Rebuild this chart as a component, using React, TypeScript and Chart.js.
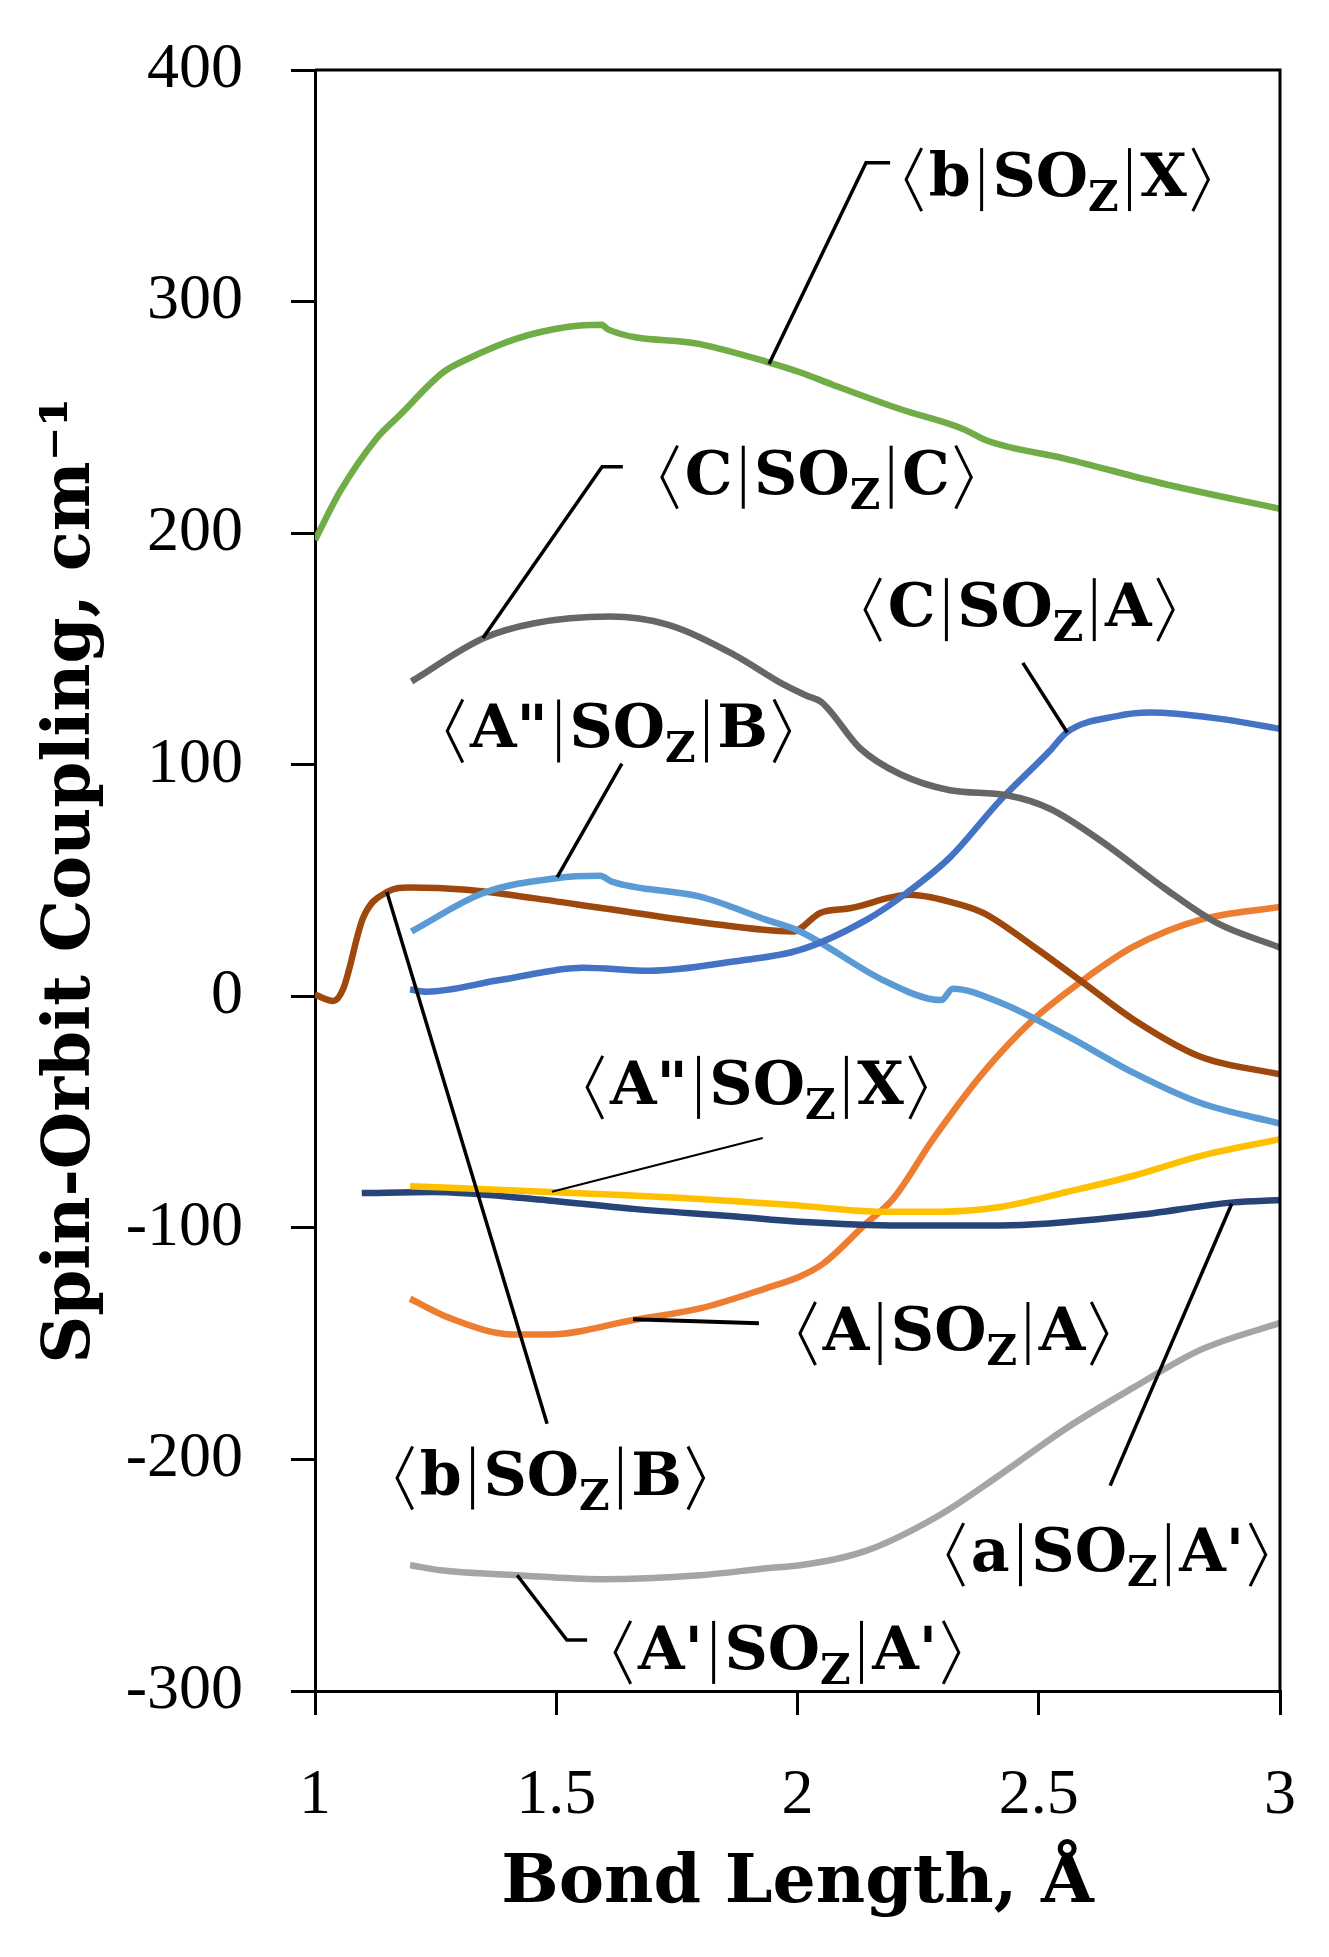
import React, { useRef, useEffect } from "react";
import Chart from "chart.js/auto";

// series: [bond length (Å), coupling (cm-1)]
const bSOX: [number, number][] = [
  [1.0, 197], [1.052, 218], [1.128, 241], [1.176, 251], [1.266, 269.5], [1.314, 275],
  [1.418, 284], [1.522, 289], [1.594, 290], [1.607, 288], [1.798, 281.6], [1.936, 274],
  [2.005, 269.5], [2.074, 264], [2.212, 253.6], [2.343, 245], [2.392, 240], [2.558, 232],
  [2.765, 221], [3.0, 210.5],
];
const cSOC: [number, number][] = [
  [1.2, 136], [1.349, 154.6], [1.452, 161], [1.611, 164], [1.729, 160.6], [1.867, 147.7],
  [1.97, 134.8], [2.019, 129.8], [2.05, 127], [2.13, 107], [2.212, 96], [2.316, 89],
  [2.434, 86.8], [2.523, 81], [2.627, 67.4], [2.765, 46], [2.869, 31.7], [3.0, 21],
];
const cSOA: [number, number][] = [
  [1.197, 2.9], [1.232, 2], [1.383, 7], [1.556, 12.3], [1.694, 11], [1.867, 15], [2.005, 20],
  [2.143, 33], [2.226, 44.6], [2.316, 60], [2.42, 84.6], [2.523, 106], [2.558, 114],
  [2.662, 121], [2.731, 122.5], [2.869, 120], [3.0, 115.5],
];
const appSOB: [number, number][] = [
  [1.2, 28], [1.349, 44.6], [1.5, 51], [1.591, 52], [1.615, 49.5], [1.798, 43], [1.936, 33],
  [2.005, 28], [2.177, 7], [2.281, -1.4], [2.298, -1.6], [2.322, 3.3], [2.42, -2.7],
  [2.558, -17], [2.696, -33], [2.834, -46], [3.0, -55],
];
const bSOB: [number, number][] = [
  [1.0, 0.7], [1.038, -2], [1.058, 3], [1.1, 34], [1.149, 45], [1.197, 47], [1.314, 46],
  [1.452, 42.4], [1.597, 38], [1.798, 32], [1.991, 28], [2.047, 36], [2.109, 38],
  [2.233, 43.8], [2.316, 40.8], [2.385, 36], [2.489, 21.5], [2.592, 5.9], [2.696, -10],
  [2.834, -26], [3.0, -33.7],
];
const appSOX: [number, number][] = [
  [1.197, -82], [1.487, -84.5], [1.798, -87.5], [2.005, -90.4], [2.177, -93], [2.295, -93],
  [2.42, -91], [2.558, -84.5], [2.696, -77.5], [2.834, -69], [3.0, -61.7],
];
const aSOAp: [number, number][] = [
  [1.097, -85], [1.245, -84.5], [1.452, -87.5], [1.66, -91.8], [1.867, -95], [2.005, -97.4],
  [2.212, -99], [2.42, -99], [2.696, -94.7], [2.903, -89], [3.0, -88],
];
const aSOA: [number, number][] = [
  [1.197, -130.6], [1.28, -139], [1.411, -146], [1.487, -146], [1.66, -139.8], [1.798, -134.8],
  [1.936, -126], [2.005, -121], [2.053, -115.5], [2.143, -98], [2.198, -87.5], [2.281, -61.7],
  [2.385, -33], [2.489, -10], [2.592, 7], [2.696, 21.4], [2.834, 33], [3.0, 38.6],
];
const apSOAp: [number, number][] = [
  [1.197, -245.7], [1.266, -248], [1.418, -250], [1.591, -251.7], [1.798, -250], [1.936, -247],
  [2.005, -245.7], [2.143, -239.4], [2.295, -224], [2.42, -206.6], [2.558, -186.4],
  [2.696, -169], [2.834, -152.8], [3.0, -141],
];

const seriesData = [bSOX, cSOC, cSOA, appSOB, bSOB, appSOX, aSOAp, aSOA, apSOAp];
const seriesColors = [
  "#70AD47", "#666666", "#4472C4", "#5B9BD5", "#9E480E",
  "#FFC000", "#264478", "#ED7D31", "#A5A5A5",
];

// label text: bra state, ket state (the middle is always SO_Z)
const labelStates: [string, string][] = [
  ["b", "X"], ["C", "C"], ["C", "A"], ['A"', "B"], ['A"', "X"],
  ["b", "B"], ["A", "A"], ["a", "A'"], ["A'", "A'"],
];
// left edge x and vertical centre y of each label, in data units
const labelAt: [number, number][] = [
  [2.225, 355], [1.719, 226.5], [2.14, 169.3], [1.274, 116.9], [1.564, -37],
  [1.17, -205.7], [2.005, -143.3], [2.312, -238.8], [1.622, -281],
];
// leader lines, in data units
const leaders: [number, number][][] = [
  [[2.192, 360], [2.142, 360], [1.941, 273]],
  [[1.638, 228.7], [1.595, 228.7], [1.348, 154.7]],
  [[2.467, 144], [2.559, 113.9]],
  [[1.636, 100.5], [1.502, 51.5]],
  [[1.928, -61.2], [1.491, -84.4]],
  [[1.481, -184.6], [1.149, 45]],
  [[1.659, -139.5], [1.92, -141.2]],
  [[2.648, -211.3], [2.9, -89.6]],
  [[1.564, -278], [1.522, -278], [1.419, -250]],
];
const leaderWidths = [3.5, 3.5, 3.5, 3.5, 2, 3.5, 4, 3.5, 3.5];

const LABEL_SIZE = 60;

function drawLabel(ctx: CanvasRenderingContext2D, x: number, cy: number, bra: string, ket: string) {
  const S = LABEL_SIZE;
  const base = cy + 0.365 * S;
  const top = base - 0.8 * S;
  const bot = base + 0.25 * S;
  const mid = (top + bot) / 2;
  const bw = 0.26 * S;
  const main = `bold ${S}px "DejaVu Serif"`;
  const small = `bold ${Math.round(S * 0.7)}px "DejaVu Serif"`;
  ctx.lineWidth = 3;
  ctx.textAlign = "left";
  ctx.textBaseline = "alphabetic";

  let cx = x;
  ctx.beginPath();
  ctx.moveTo(cx + bw, top);
  ctx.lineTo(cx, mid);
  ctx.lineTo(cx + bw, bot);
  ctx.stroke();
  cx += bw + 0.12 * S;

  const bar = () => {
    cx += 0.18 * S;
    ctx.beginPath();
    ctx.moveTo(cx, top);
    ctx.lineTo(cx, bot);
    ctx.stroke();
    cx += 0.18 * S;
  };
  const text = (t: string, font: string, dy: number) => {
    ctx.font = font;
    ctx.fillText(t, cx, base + dy);
    cx += ctx.measureText(t).width;
  };

  text(bra, main, 0);
  bar();
  text("SO", main, 0);
  text("Z", small, 0.25 * S);
  bar();
  text(ket, main, 0);

  cx += 0.1 * S;
  ctx.beginPath();
  ctx.moveTo(cx, top);
  ctx.lineTo(cx + bw, mid);
  ctx.lineTo(cx, bot);
  ctx.stroke();
}

const annotate = {
  id: "annotate",
  afterDatasetsDraw(chart: any) {
    const { ctx, chartArea, scales } = chart;
    const xs = scales.x;
    const ys = scales.y;
    ctx.save();
    ctx.strokeStyle = "#000";
    ctx.fillStyle = "#000";
    ctx.lineCap = "butt";

    // top and right sides of the frame
    ctx.lineWidth = 3;
    ctx.beginPath();
    ctx.moveTo(chartArea.left, chartArea.top);
    ctx.lineTo(chartArea.right, chartArea.top);
    ctx.lineTo(chartArea.right, chartArea.bottom);
    ctx.stroke();

    leaders.forEach((pts, i) => {
      ctx.lineWidth = leaderWidths[i];
      ctx.beginPath();
      pts.forEach(([px, py], j) => {
        const X = xs.getPixelForValue(px);
        const Y = ys.getPixelForValue(py);
        if (j === 0) ctx.moveTo(X, Y);
        else ctx.lineTo(X, Y);
      });
      ctx.stroke();
    });

    labelStates.forEach(([bra, ket], i) => {
      const [lx, ly] = labelAt[i];
      drawLabel(ctx, xs.getPixelForValue(lx), ys.getPixelForValue(ly), bra, ket);
    });
    ctx.restore();
  },
};

const App: React.FC = () => {
  const chartRef = useRef<HTMLCanvasElement | null>(null);
  const chartInstance = useRef<Chart | null>(null);

  useEffect(() => {
    document.body.style.margin = "0";
    if (chartInstance.current) {
      chartInstance.current.destroy();
      chartInstance.current = null;
    }
    if (!chartRef.current) return;

    const tickFont = { family: '"Liberation Serif"', size: 64 };
    const xTitleFont = { family: '"DejaVu Serif"', size: 68, weight: "bold" as const };
    const yTitleFont = { family: '"DejaVu Serif"', size: 66, weight: "bold" as const };

    chartInstance.current = new Chart(chartRef.current, {
      type: "line",
      data: {
        datasets: seriesData.map((pts, i) => ({
          data: pts.map(([x, y]) => ({ x, y })),
          borderColor: seriesColors[i],
          backgroundColor: seriesColors[i],
          borderWidth: 6.5,
          pointRadius: 0,
          fill: false,
          cubicInterpolationMode: "monotone" as const,
        })),
      },
      options: {
        responsive: false,
        animation: false,
        layout: { padding: { left: 0, top: 70, right: 49, bottom: 0 } },
        plugins: {
          legend: { display: false },
          tooltip: { enabled: false },
        },
        scales: {
          x: {
            type: "linear",
            min: 1,
            max: 3,
            afterFit: (scale: any) => {
              scale.height = 266;
              scale.paddingLeft = 0;
              scale.paddingRight = 0;
            },
            ticks: {
              stepSize: 0.5,
              color: "#000",
              font: tickFont,
              padding: 43,
              maxRotation: 0,
              callback: (v: any) => `${v}`,
            },
            grid: {
              drawOnChartArea: false,
              drawTicks: true,
              tickLength: 24,
              color: "#000",
              lineWidth: 3,
            },
            border: { display: true, color: "#000", width: 3 },
            title: {
              display: true,
              text: "Bond Length, Å",
              color: "#000",
              font: xTitleFont,
              padding: { top: 0, bottom: 32 },
            },
          },
          y: {
            type: "linear",
            min: -300,
            max: 400,
            afterFit: (scale: any) => {
              scale.width = 315;
              scale.paddingTop = 0;
              scale.paddingBottom = 0;
            },
            ticks: {
              stepSize: 100,
              color: "#000",
              font: tickFont,
              padding: 48,
            },
            grid: {
              drawOnChartArea: false,
              drawTicks: true,
              tickLength: 24,
              color: "#000",
              lineWidth: 3,
            },
            border: { display: true, color: "#000", width: 3 },
            title: {
              display: true,
              text: "Spin-Orbit Coupling, cm⁻¹",
              color: "#000",
              font: yTitleFont,
              padding: { top: 32, bottom: 0 },
            },
          },
        },
      },
      plugins: [annotate],
    });

    return () => {
      if (chartInstance.current) {
        chartInstance.current.destroy();
        chartInstance.current = null;
      }
    };
  }, []);

  return (
    <canvas
      ref={chartRef}
      width={1329}
      height={1957}
      style={{ display: "block", width: "1329px", height: "1957px" }}
    ></canvas>
  );
};

export default App;
